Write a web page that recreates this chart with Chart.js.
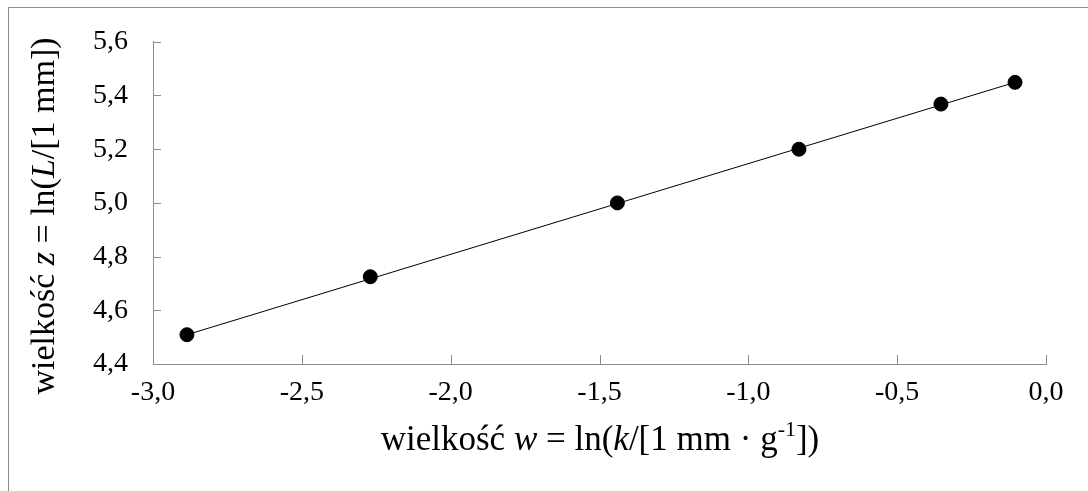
<!DOCTYPE html>
<html>
<head>
<meta charset="utf-8">
<script src="https://cdn.jsdelivr.net/npm/chart.js@4"></script>
<style>
  html, body { margin: 0; padding: 0; background: #fff; overflow: hidden; }
  #wrap { position: relative; width: 1088px; height: 491px; }
  #frame { position: absolute; left: 8px; top: 7px; width: 1200px; height: 600px;
           border-top: 1px solid #8c8c8c; border-left: 1px solid #8c8c8c; }
  canvas { position: absolute; left: 0; top: 0; }
</style>
</head>
<body>
<div id="wrap">
  <div id="frame"></div>
  <canvas id="chart" width="1088" height="491"></canvas>
</div>
<script>
// measured points, w = ln(k), z = ln(L)
const wValues = [-2.886, -2.27, -1.44, -0.83, -0.353, -0.104];
const zValues = [4.509, 4.725, 5.0, 5.2, 5.368, 5.449];

// trend line ends
const trendW = [-2.886, -0.104];
const trendZ = [4.509, 5.449];

const xTicks = [-3.0, -2.5, -2.0, -1.5, -1.0, -0.5, 0.0];
const yTicks = [4.4, 4.6, 4.8, 5.0, 5.2, 5.4, 5.6];

const serif = "'Liberation Serif', serif";
const axisGray = "#8c8c8c";

function fmt(v) {
  return v.toFixed(1).replace(".", ",");
}

// draw text made of pieces with different styles, centered on cx
function drawPieces(ctx, pieces, cx, baseY, size) {
  const fontOf = (p) => {
    const s = p.sup ? Math.round(size * 0.62) : size;
    return (p.italic ? "italic " : "") + s + "px " + serif;
  };
  let total = 0;
  pieces.forEach((p) => {
    ctx.font = fontOf(p);
    total += ctx.measureText(p.t).width;
  });
  let x = cx - total / 2;
  pieces.forEach((p) => {
    ctx.font = fontOf(p);
    ctx.fillText(p.t, x, p.sup ? baseY - size * 0.4 : baseY);
    x += ctx.measureText(p.t).width;
  });
}

const xTitle = [
  { t: "wielkość " },
  { t: "w", italic: true },
  { t: " = ln(" },
  { t: "k", italic: true },
  { t: "/[1 mm · g" },
  { t: "-1", sup: true },
  { t: "])" },
];

const yTitle = [
  { t: "wielkość " },
  { t: "z", italic: true },
  { t: " = ln(" },
  { t: "L", italic: true },
  { t: "/[1 mm])" },
];

// inward ticks and the axis titles
const decorPlugin = {
  id: "decor",
  afterDraw(chart) {
    const ctx = chart.ctx;
    const xs = chart.scales.x;
    const ys = chart.scales.y;
    const area = chart.chartArea;
    ctx.save();
    ctx.strokeStyle = axisGray;
    ctx.lineWidth = 1;
    xTicks.forEach((v) => {
      const px = Math.round(xs.getPixelForValue(v)) + 0.5;
      ctx.beginPath();
      ctx.moveTo(px, area.bottom);
      ctx.lineTo(px, area.bottom - 9);
      ctx.stroke();
    });
    yTicks.forEach((v) => {
      const py = Math.round(ys.getPixelForValue(v)) + 0.5;
      ctx.beginPath();
      ctx.moveTo(area.left, py);
      ctx.lineTo(area.left + 8, py);
      ctx.stroke();
    });

    ctx.fillStyle = "#000";
    ctx.textBaseline = "alphabetic";
    ctx.textAlign = "left";
    drawPieces(ctx, xTitle, 600, 450, 35);

    ctx.translate(54, 216);
    ctx.rotate(-Math.PI / 2);
    drawPieces(ctx, yTitle, 0, 0, 34);
    ctx.restore();
  },
};

function makeChart() {
  const pointData = wValues.map((w, i) => ({ x: w, y: zValues[i] }));
  const trendData = trendW.map((w, i) => ({ x: w, y: trendZ[i] }));

  new Chart(document.getElementById("chart"), {
    type: "scatter",
    data: {
      datasets: [
        {
          label: "trend",
          data: trendData,
          showLine: true,
          borderColor: "#000",
          borderWidth: 1,
          pointRadius: 0,
          order: 2,
        },
        {
          label: "z(w)",
          data: pointData,
          backgroundColor: "#000",
          borderColor: "#000",
          pointRadius: 7,
          pointHoverRadius: 7,
          order: 1,
        },
      ],
    },
    options: {
      responsive: false,
      animation: false,
      events: [],
      layout: { padding: { top: 23, right: 42, bottom: 0, left: 0 } },
      plugins: { legend: { display: false }, tooltip: { enabled: false } },
      scales: {
        x: {
          type: "linear",
          min: -3,
          max: 0,
          afterBuildTicks: (s) => { s.ticks = xTicks.map((v) => ({ value: v })); },
          afterFit: (s) => { s.height = 127; },
          grid: { display: true, drawOnChartArea: false, drawTicks: false },
          border: { display: true, color: axisGray, width: 1 },
          ticks: {
            padding: 12,
            color: "#000",
            font: { family: serif, size: 28 },
            callback: (v) => fmt(v),
            maxRotation: 0,
          },
        },
        y: {
          type: "linear",
          min: 4.4,
          max: 5.6,
          afterBuildTicks: (s) => { s.ticks = yTicks.map((v) => ({ value: v })); },
          afterFit: (s) => { s.width = 153; },
          grid: { display: true, drawOnChartArea: false, drawTicks: false },
          border: { display: true, color: axisGray, width: 1 },
          ticks: {
            padding: 25,
            color: "#000",
            font: { family: serif, size: 28 },
            callback: (v) => fmt(v),
          },
        },
      },
    },
    plugins: [decorPlugin],
  });
}

Promise.all([
  document.fonts.load("28px 'Liberation Serif'"),
  document.fonts.load("italic 28px 'Liberation Serif'"),
]).then(makeChart, makeChart);
</script>
</body>
</html>
